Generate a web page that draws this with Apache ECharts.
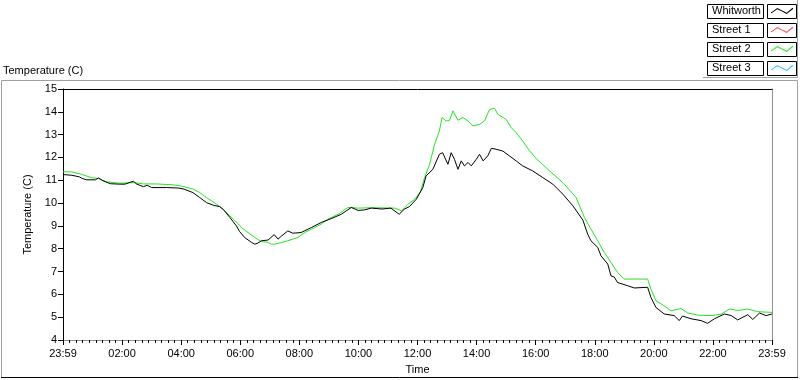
<!DOCTYPE html>
<html>
<head>
<meta charset="utf-8">
<script src="https://cdn.jsdelivr.net/npm/echarts@6/dist/echarts.min.js"></script>
<style>
html,body{margin:0;padding:0;background:#fff;}
#chart{width:800px;height:380px;}
</style>
</head>
<body>
<div id="chart"></div>
<script>
// ---- data (hours since 23:59 of previous day) ----
var seriesNames = ['Whitworth', 'Street 1', 'Street 2', 'Street 3'];
var xTickLabels = ['23:59','02:00','04:00','06:00','08:00','10:00','12:00','14:00','16:00','18:00','20:00','22:00','23:59'];

var whitworthHours = [0.0,0.3,0.55,0.65,0.8,1.1,1.2,1.35,1.6,1.9,2.1,2.38,2.5,2.72,2.85,3.0,3.5,3.9,4.1,4.4,4.63,4.86,5.1,5.3,5.42,5.65,5.87,5.98,6.15,6.38,6.49,6.6,6.72,6.94,7.15,7.28,7.39,7.61,7.78,8.06,8.41,8.74,9.08,9.42,9.76,9.99,10.2,10.44,10.8,11.1,11.38,11.55,11.73,11.96,12.18,12.29,12.52,12.74,12.85,13.03,13.14,13.25,13.37,13.48,13.59,13.71,13.82,13.99,14.1,14.22,14.38,14.5,14.66,14.89,15.11,15.34,15.56,15.9,16.24,16.58,16.92,17.26,17.6,17.76,17.87,18.1,18.21,18.44,18.55,18.66,18.77,19.11,19.34,19.79,19.9,20.07,20.35,20.69,20.86,20.97,21.26,21.6,21.82,22.05,22.39,22.62,22.84,23.18,23.35,23.58,23.8,24.0];
var whitworthTemp  = [11.25,11.22,11.15,11.08,11.02,11.02,11.1,10.98,10.85,10.83,10.83,10.96,10.83,10.72,10.78,10.68,10.68,10.66,10.61,10.46,10.24,10.02,9.9,9.85,9.73,9.37,9.0,8.75,8.49,8.28,8.2,8.25,8.35,8.38,8.62,8.42,8.55,8.78,8.68,8.71,8.93,9.15,9.32,9.51,9.81,9.68,9.7,9.78,9.74,9.78,9.51,9.73,9.85,10.17,10.68,11.19,11.48,12.14,12.21,11.7,12.21,11.92,11.48,11.85,11.63,11.78,11.63,11.92,12.14,11.85,12.07,12.4,12.36,12.28,12.07,11.85,11.63,11.41,11.12,10.83,10.39,9.88,9.25,8.64,8.35,8.06,7.69,7.33,6.81,6.76,6.52,6.38,6.28,6.31,5.87,5.43,5.14,5.07,4.85,5.05,4.93,4.85,4.73,4.93,5.14,5.07,4.88,5.11,4.9,5.18,5.07,5.14];

var street2Hours = [0.0,0.29,0.35,0.63,0.97,1.2,1.48,1.93,2.38,2.72,3.17,3.73,4.07,4.41,4.63,4.86,5.2,5.42,5.65,5.81,5.98,6.04,6.26,6.49,6.72,6.94,7.05,7.16,7.39,7.61,7.95,8.18,8.52,8.74,8.97,9.31,9.65,9.99,10.5,11.23,11.46,11.68,11.91,12.1,12.24,12.41,12.58,12.74,12.83,12.97,13.08,13.2,13.37,13.54,13.71,13.88,14.1,14.27,14.44,14.61,14.72,15.0,15.17,15.34,15.56,15.79,16.02,16.47,16.92,17.37,17.65,17.87,18.1,18.32,18.55,18.77,19.0,19.79,19.9,20.07,20.35,20.58,20.92,21.15,21.49,21.94,22.28,22.56,22.84,23.18,23.52,24.0];
var street2Temp  = [11.37,11.37,11.3,11.26,11.11,11.08,10.93,10.87,10.9,10.84,10.84,10.8,10.73,10.61,10.46,10.24,9.95,9.73,9.44,9.25,9.02,8.93,8.71,8.49,8.31,8.28,8.2,8.2,8.27,8.35,8.49,8.71,8.93,9.08,9.3,9.51,9.81,9.78,9.8,9.78,9.66,9.95,10.17,10.5,11.12,11.7,12.58,13.16,13.75,13.6,13.62,14.04,13.63,13.75,13.6,13.38,13.45,13.6,14.11,14.15,13.89,13.67,13.31,13.09,12.72,12.3,11.95,11.41,10.9,10.24,9.37,8.86,8.35,7.84,7.4,6.96,6.67,6.67,6.23,5.72,5.5,5.28,5.38,5.18,5.09,5.07,5.13,5.36,5.29,5.36,5.24,5.21];

var street1Hours = [];
var street1Temp = [];
var street3Hours = [];
var street3Temp = [];

function pairs(xs, ys) { return xs.map(function (x, i) { return [x, ys[i]]; }); }

var FONT = 'Liberation Sans, Arial, sans-serif';
var zig = 'path://M0,6 L1,6 L8,1 L14,4 L20,7 L27,1 L28,1 L28,2.2 L20,8.4 L14,5.4 L8,2.4 L1,7.2 L0,7.2 Z';

var chart = echarts.init(document.getElementById('chart'), null, {renderer: 'canvas'});
var frames = [];
for (var i = 0; i < 4; i++) {
  var y0 = 4.5 + i * 19;
  frames.push({type: 'rect', shape: {x: 707.5, y: y0, width: 56, height: 14}, style: {fill: 'none', stroke: '#000', lineWidth: 1}, z: 1});
  frames.push({type: 'rect', shape: {x: 767.5, y: y0, width: 29, height: 14}, style: {fill: 'none', stroke: '#000', lineWidth: 1}, z: 1});
}
frames.push({type: 'polyline', shape: {points: [[703, 77.5], [797.5, 77.5], [797.5, 0]]}, style: {fill: 'none', stroke: '#a0a0a0', lineWidth: 1}});
frames.push({type: 'polyline', shape: {points: [[1.5, 378], [1.5, 80.5], [797.5, 80.5], [797.5, 378]]}, style: {fill: 'none', stroke: '#a0a0a0', lineWidth: 1}});
frames.push({type: 'line', shape: {x1: 1, y1: 377.5, x2: 798, y2: 377.5}, style: {stroke: '#000', lineWidth: 1}});

var option = {
  animation: false,
  backgroundColor: '#fff',
  textStyle: {fontFamily: FONT},
  title: {text: 'Temperature (C)', left: 3, top: 65, padding: 0,
    textStyle: {fontSize: 11, fontWeight: 'normal', color: '#000', fontFamily: FONT}},
  legend: {
    orient: 'vertical', right: 7, top: 4, padding: 0, align: 'right',
    itemGap: 5, itemWidth: 22, itemHeight: 8, selectedMode: false,
    icon: zig,
    data: seriesNames,
    formatter: function (name) { return '{n|' + name + '}'; },
    textStyle: {fontSize: 11, color: '#000', fontFamily: FONT,
      rich: {n: {width: 54, height: 14, lineHeight: 14, align: 'left', fontSize: 11, color: '#000', fontFamily: FONT}}}
  },
  graphic: frames,
  grid: {left: 63, right: 28, top: 89, bottom: 39, containLabel: false},
  xAxis: [{
    type: 'value', min: 0, max: 24, interval: 2,
    name: 'Time', nameLocation: 'middle', nameGap: 24,
    nameTextStyle: {fontSize: 11, color: '#000', fontFamily: FONT},
    axisLine: {show: true, onZero: false, lineStyle: {color: '#909090', width: 1}},
    axisTick: {show: true, length: 5, lineStyle: {color: '#000'}},
    minorTick: {show: true, splitNumber: 9, length: 3, lineStyle: {color: '#000'}},
    splitLine: {show: false},
    axisLabel: {fontSize: 11, color: '#000', margin: 8, fontFamily: FONT,
      formatter: function (v) { return xTickLabels[Math.round(v / 2)]; }}
  }, {
    type: 'value', min: 0, max: 24, position: 'top',
    axisLine: {show: true, onZero: false, lineStyle: {color: '#000', width: 1}},
    axisTick: {show: false}, axisLabel: {show: false}, splitLine: {show: false}
  }],
  yAxis: [{
    type: 'value', min: 4, max: 15, interval: 1,
    name: 'Temperature (C)', nameLocation: 'middle', nameGap: 20,
    nameTextStyle: {fontSize: 11, color: '#000', fontFamily: FONT},
    axisLine: {show: true, onZero: false, lineStyle: {color: '#000', width: 1}},
    axisTick: {show: true, length: 5, lineStyle: {color: '#000'}},
    splitLine: {show: false},
    axisLabel: {fontSize: 11, color: '#000', margin: 6, fontFamily: FONT}
  }, {
    type: 'value', min: 4, max: 15, position: 'right',
    axisLine: {show: true, onZero: false, lineStyle: {color: '#909090', width: 1}},
    axisTick: {show: false}, axisLabel: {show: false}, splitLine: {show: false}
  }],
  series: [
    {name: 'Whitworth', type: 'line', data: pairs(whitworthHours, whitworthTemp), showSymbol: false, symbol: 'none', z: 3,
      color: '#000', lineStyle: {color: '#000', width: 1}},
    {name: 'Street 1', type: 'line', data: pairs(street1Hours, street1Temp), showSymbol: false, symbol: 'none',
      color: '#ff4a4a', lineStyle: {color: '#ff4a4a', width: 1}},
    {name: 'Street 2', type: 'line', data: pairs(street2Hours, street2Temp), showSymbol: false, symbol: 'none', z: 2,
      color: '#22e622', lineStyle: {color: '#22e622', width: 1}},
    {name: 'Street 3', type: 'line', data: pairs(street3Hours, street3Temp), showSymbol: false, symbol: 'none',
      color: '#3cc0ff', lineStyle: {color: '#3cc0ff', width: 1}}
  ]
};
chart.setOption(option);
</script>
</body>
</html>
